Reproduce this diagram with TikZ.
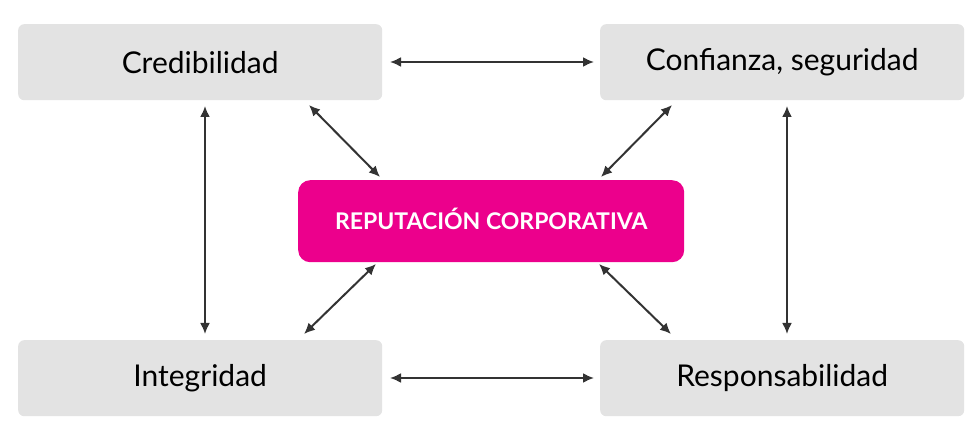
\documentclass[tikz,border=0pt]{standalone}
\usepackage{fontspec}
\setmainfont{Lato}
\usetikzlibrary{arrows.meta}
\definecolor{boxgray}{HTML}{E3E3E3}
\definecolor{magenta}{HTML}{EC008C}
\definecolor{arrowgray}{HTML}{333333}
\tikzset{
  graybox/.style={fill=boxgray, rounded corners=6pt, minimum width=364pt, minimum height=76pt, inner sep=0pt, font=\fontsize{30}{33}\selectfont, text=black, anchor=north west},
  centerbox/.style={fill=magenta, rounded corners=12pt, minimum width=386pt, minimum height=82pt, inner sep=0pt, font=\bfseries\fontsize{23}{26}\selectfont, text=white, anchor=north west},
  link/.style={draw=arrowgray, line width=2pt, {Latex[length=11pt,width=10pt]}-{Latex[length=11pt,width=10pt]}}
}
\begin{document}
\begin{tikzpicture}[x=1pt,y=-1pt]
\useasboundingbox (0,0) rectangle (980,438);
\node[graybox] (cred) at (18,24) {Credibilidad};
\node[graybox] (conf) at (600,24) {Confianza, seguridad};
\node[graybox] (integ) at (18,340) {Integridad};
\node[graybox] (resp) at (600,340) {Responsabilidad};
\node[centerbox] (rep) at (298,180) {\raisebox{4pt}{REPUTACIÓN CORPORATIVA}};
\coordinate (a1) at (390,62); \coordinate (a2) at (594,62);
\coordinate (b1) at (390,378); \coordinate (b2) at (594,378);
\coordinate (c1) at (205,106); \coordinate (c2) at (205,334);
\coordinate (d1) at (787,106); \coordinate (d2) at (787,334);
\coordinate (e1) at (309,105); \coordinate (e2) at (380,177);
\coordinate (f1) at (672,105); \coordinate (f2) at (601,177);
\coordinate (g1) at (376,264); \coordinate (g2) at (304,334);
\coordinate (h1) at (599,264); \coordinate (h2) at (671,334);
\draw[link] (a1) -- (a2);
\draw[link] (b1) -- (b2);
\draw[link] (c1) -- (c2);
\draw[link] (d1) -- (d2);
\draw[link] (e1) -- (e2);
\draw[link] (f1) -- (f2);
\draw[link] (g1) -- (g2);
\draw[link] (h1) -- (h2);
\end{tikzpicture}
\end{document}
